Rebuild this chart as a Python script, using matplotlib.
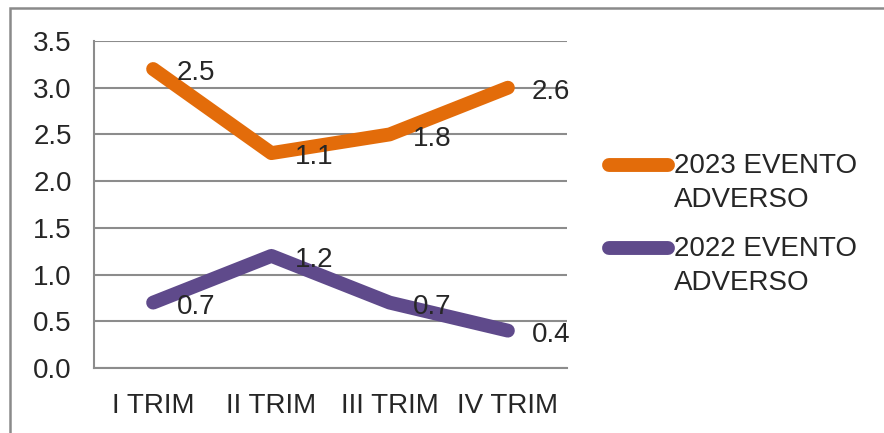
import matplotlib
matplotlib.use("Agg")
import matplotlib.pyplot as plt
from matplotlib.lines import Line2D
from matplotlib.patches import Rectangle
import numpy as np

trimestres = ["I TRIM", "II TRIM", "III TRIM", "IV TRIM"]
eventos_2022 = [0.7, 1.2, 0.7, 0.4]
eventos_2023 = [2.5, 1.1, 1.8, 2.6]
nome_2023 = "2023 EVENTO\nADVERSO"
nome_2022 = "2022 EVENTO\nADVERSO"

cor_2023 = "#E36C0A"
cor_2022 = "#5F4A8B"
cor_texto = "#262626"
cor_grade = "#8C8C8C"

plt.rcParams["font.family"] = ["Liberation Sans", "DejaVu Sans"]
fs = 20

W, H = 884, 433
fig = plt.figure(figsize=(W / 100, H / 100), dpi=100)
ax = fig.add_axes([94 / W, 1 - 368 / H, (567 - 94) / W, (368 - 41) / H])

x = np.arange(len(trimestres))
base = np.array(eventos_2022)
# linhas empilhadas: 2023 fica por cima de 2022
topo = base + np.array(eventos_2023)

ax.plot(x, base, color=cor_2022, lw=10, solid_capstyle="round",
        solid_joinstyle="round", zorder=3)
ax.plot(x, topo, color=cor_2023, lw=10, solid_capstyle="round",
        solid_joinstyle="round", zorder=3)

for xi, yi, v in zip(x, base, eventos_2022):
    ax.annotate(f"{v:.1f}", (xi, yi), xytext=(17, -3), textcoords="offset points",
                ha="left", va="center", fontsize=fs, color=cor_texto, zorder=4)
for xi, yi, v in zip(x, topo, eventos_2023):
    ax.annotate(f"{v:.1f}", (xi, yi), xytext=(17, -3), textcoords="offset points",
                ha="left", va="center", fontsize=fs, color=cor_texto, zorder=4)

ax.set_xlim(-0.5, len(trimestres) - 0.5)
ax.set_ylim(0, 3.5)
ax.set_yticks(np.arange(0, 3.51, 0.5))
ax.set_yticklabels([f"{t:.1f}" for t in np.arange(0, 3.51, 0.5)])
ax.set_xticks(x)
ax.set_xticklabels(trimestres)
ax.tick_params(axis="both", length=0, labelsize=fs, colors=cor_texto)
ax.tick_params(axis="y", pad=16)
ax.tick_params(axis="x", pad=18)
ax.yaxis.grid(True, color=cor_grade, lw=1.5)
ax.set_axisbelow(True)
for s in ["top", "right"]:
    ax.spines[s].set_visible(False)
for s in ["left", "bottom"]:
    ax.spines[s].set_color(cor_grade)
    ax.spines[s].set_linewidth(1.5)

# legenda desenhada à mão, com a linha alinhada à primeira linha do texto
for y_px, cor, nome in [(165, cor_2023, nome_2023), (248, cor_2022, nome_2022)]:
    yf = 1 - y_px / H
    fig.add_artist(Line2D([609 / W, 668 / W], [yf, yf], color=cor, lw=10,
                          solid_capstyle="round", transform=fig.transFigure))
    fig.text(674 / W, yf + 12 / H, nome, ha="left", va="top", fontsize=fs,
             color=cor_texto, linespacing=1.42)

# moldura externa
fig.add_artist(Rectangle((10 / W, -0.1), 1.2, 1.1 - 8 / H, fill=False,
                         edgecolor="#8A8A8A", lw=1.8, transform=fig.transFigure))

fig.savefig("out.png", dpi=100)
